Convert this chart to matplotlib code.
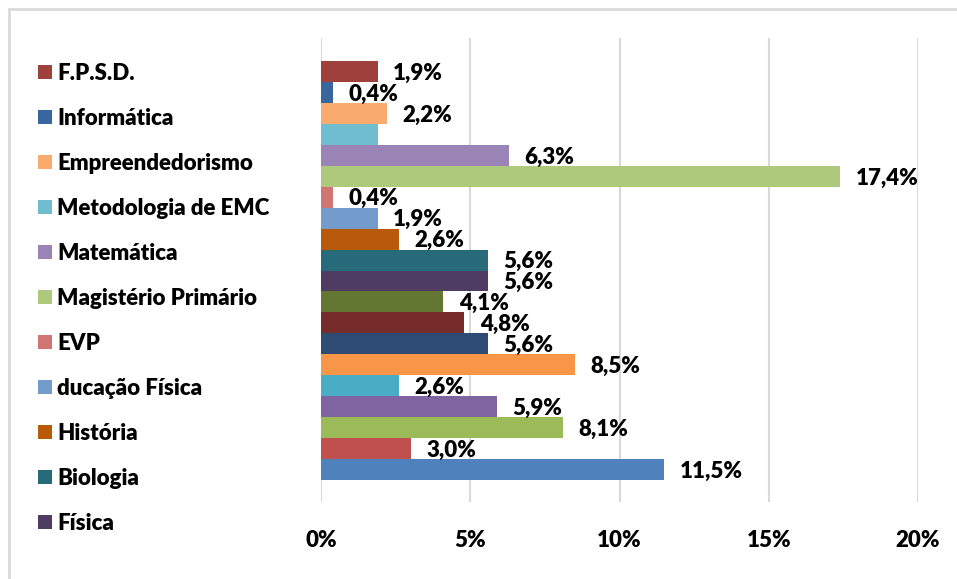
import matplotlib.pyplot as plt
from matplotlib.patches import Rectangle

# series listed from top bar to bottom bar
names = ['F.P.S.D.', 'Informática', 'Empreendedorismo', 'Metodologia de EMC',
         'Matemática', 'Magistério Primário', 'EVP', 'ducação Física',
         'História', 'Biologia', 'Física']
values = [1.9, 0.4, 2.2, 1.9, 6.3, 17.4, 0.4, 1.9, 2.6, 5.6,
          5.6, 4.1, 4.8, 5.6, 8.5, 2.6, 5.9, 8.1, 3.0, 11.5]
colors = ['#A0403D', '#3A66A0', '#F9AB6E', '#71BDD0', '#9A84B5', '#AEC97C',
          '#D07474', '#739BCB', '#B85A0A', '#276A7A', '#4E3C62', '#637732',
          '#772B2B', '#2E4B73', '#F79646', '#4BACC6', '#8064A2', '#9BBB59',
          '#C0504D', '#4F81BD']
no_label = [3]  # Metodologia de EMC has no data label in the original
xticks = [0, 5, 10, 15, 20]

plt.rcParams['font.family'] = ['Lato', 'DejaVu Sans']
plt.rcParams['font.weight'] = 'heavy'

fig = plt.figure(figsize=(9.57, 5.79), dpi=100)
ax = fig.add_axes([321 / 957, 1 - 502 / 579, (918 - 321) / 957, (502 - 38) / 579])

for i, v in enumerate(values):
    lab = names[i] if i < len(names) else '_nolegend_'
    ax.barh(i, v, height=1.0, color=colors[i], label=lab, zorder=2)
    if i not in no_label:
        ax.text(v + 0.52, i + 0.08, f'{v:.1f}%'.replace('.', ','),
                va='center', ha='left', fontsize=16, fontweight='heavy', color='black')

ax.set_xlim(0, 20)
ax.set_ylim(len(values) - 0.5 + 1.05, -0.5 - 1.1)
ax.set_xticks(xticks)
ax.set_xticklabels([f'{t}%' for t in xticks], fontsize=16, fontweight='heavy')
ax.set_yticks([])
ax.tick_params(axis='x', length=0, pad=20.5)
ax.grid(axis='x', color='#D9D9D9', linewidth=1.5, zorder=0)
for s in ax.spines.values():
    s.set_visible(False)

leg = fig.legend(loc='upper left', bbox_to_anchor=(29 / 957, 1 - 54 / 579),
                 frameon=False, prop={'weight': 'heavy', 'size': 16},
                 handlelength=0.63, handleheight=0.63, handletextpad=0.25,
                 labelspacing=1.08, borderaxespad=0)

fig.patches.append(Rectangle((9 / 957, -0.05), 1.1, 1 - 9 / 579 + 0.05,
                             transform=fig.transFigure, fill=False,
                             edgecolor='#D9D9D9', linewidth=2))

fig.savefig('out.png', dpi=100)
